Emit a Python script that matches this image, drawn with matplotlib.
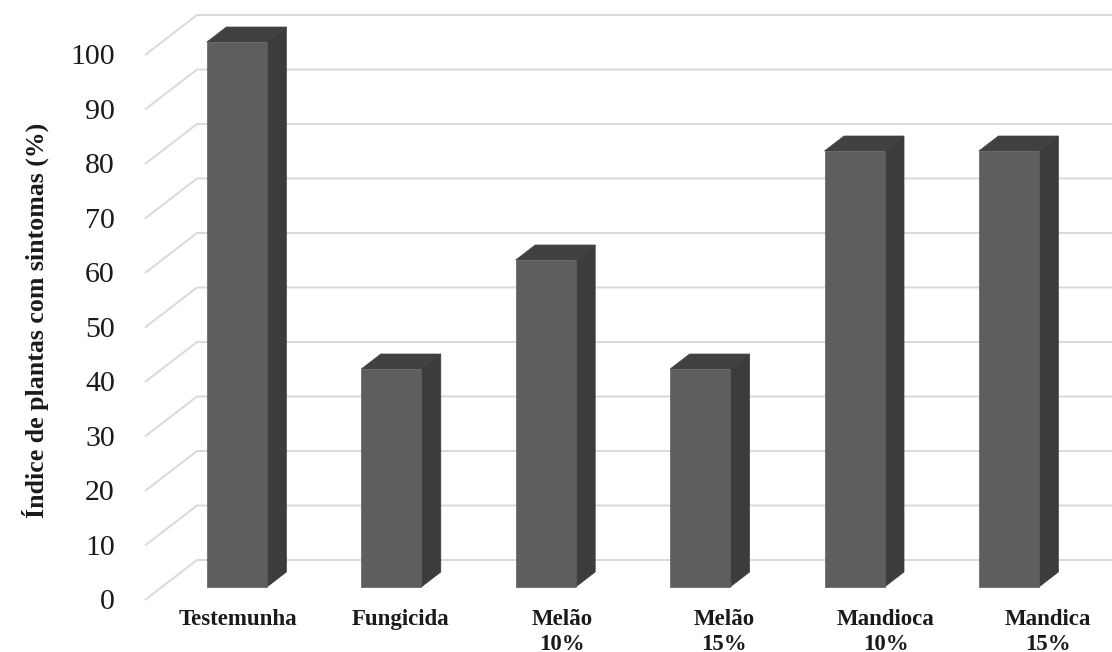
import matplotlib
matplotlib.use("Agg")
import matplotlib.pyplot as plt
from matplotlib.patches import Polygon

# ---- data -------------------------------------------------------------
categories = ["Testemunha", "Fungicida", "Melão\n10%", "Melão\n15%",
              "Mandioca\n10%", "Mandica\n15%"]
values = [100, 40, 60, 40, 80, 80]
yticks = [0, 10, 20, 30, 40, 50, 60, 70, 80, 90, 100]
ylabel = "Índice de plantas com sintomas (%)"

# ---- figure / projection setup ----------------------------------------
W, H = 1112, 652
fig = plt.figure(figsize=(W / 100, H / 100), dpi=100)
ax = fig.add_axes([0, 0, 1, 1])
ax.axis("off")

px_per_cat = 154.4      # pixels per category step
px_per_val = 5.45       # pixels per value unit
x0_px, y0_px = 220, 600  # pixel position of category 0, value 0 (front plane)
ax.set_xlim(-x0_px / px_per_cat, (W - x0_px) / px_per_cat)
ax.set_ylim(-(H - y0_px) / px_per_val, y0_px / px_per_val)

# oblique depth direction (full floor depth)
DX = 52 / px_per_cat
DV = 40 / px_per_val


def P(x, v, z):
    return (x + z * DX, v + z * DV)


grid_color = "#d9d9d9"
x_left = (145 - x0_px) / px_per_cat
x_right = (W + 20 - x0_px) / px_per_cat

# gridlines: diagonal on the side wall, horizontal on the back wall
for v in yticks:
    a = P(x_left, v, 0)
    b = P(x_left, v, 1)
    c = (x_right, b[1])
    ax.plot([a[0], b[0], c[0]], [a[1], b[1], c[1]], color=grid_color,
            lw=1.4, solid_capstyle="butt", zorder=1)

# ---- 3D bars ----------------------------------------------------------
hw = 30 / px_per_cat
z0, z1 = 0.325, 0.70
front_c, side_c, top_c = "#5e5e5e", "#3c3c3c", "#414141"
for i, v in enumerate(values):
    xl, xr = i - hw, i + hw
    front = [P(xl, 0, z0), P(xr, 0, z0), P(xr, v, z0), P(xl, v, z0)]
    side = [P(xr, 0, z0), P(xr, 0, z1), P(xr, v, z1), P(xr, v, z0)]
    top = [P(xl, v, z0), P(xr, v, z0), P(xr, v, z1), P(xl, v, z1)]
    for pts, col in ((side, side_c), (top, top_c), (front, front_c)):
        ax.add_patch(Polygon(pts, closed=True, facecolor=col,
                             edgecolor=col, lw=0.5, zorder=3))

# ---- text -------------------------------------------------------------
serif = ["Liberation Serif", "DejaVu Serif"]
tick_x = (115 - x0_px) / px_per_cat
for v in yticks:
    ax.text(tick_x, v - 0.45, str(v), ha="right", va="center", fontsize=21.5,
            family=serif, color="#1a1a1a", zorder=4)

label_top = -(612 - y0_px) / px_per_val + 0.5
for i, lab in enumerate(categories):
    lx = (238 - x0_px) / px_per_cat + i * 162 / px_per_cat
    ax.text(lx, label_top, lab, ha="center", va="top", fontsize=16.5,
            family=serif, weight="bold", color="#1a1a1a",
            linespacing=1.25, multialignment="center", zorder=4)

fig.text(35 / W, 1 - 320 / H, ylabel, rotation=90, ha="center",
         va="center", fontsize=18.6, family=serif, weight="bold",
         color="#1a1a1a")

fig.savefig("out.png", dpi=100)
